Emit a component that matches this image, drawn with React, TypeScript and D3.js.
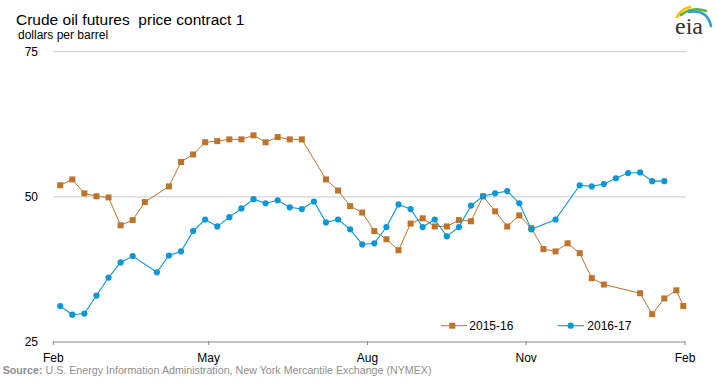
import * as d3 from 'd3'

// weekly settle prices, dollars per barrel
const dates1516 = [
  '2015-02-06', '2015-02-13', '2015-02-20', '2015-02-27', '2015-03-06', '2015-03-13', '2015-03-20', '2015-03-27',
  '2015-04-10', '2015-04-17', '2015-04-24', '2015-05-01', '2015-05-08', '2015-05-15', '2015-05-22', '2015-05-29',
  '2015-06-05', '2015-06-12', '2015-06-19', '2015-06-26', '2015-07-10', '2015-07-17', '2015-07-24', '2015-07-31',
  '2015-08-07', '2015-08-14', '2015-08-21', '2015-08-28', '2015-09-04', '2015-09-11', '2015-09-18', '2015-09-25',
  '2015-10-02', '2015-10-09', '2015-10-16', '2015-10-23', '2015-10-30', '2015-11-06', '2015-11-13', '2015-11-20',
  '2015-11-27', '2015-12-04', '2015-12-11', '2015-12-18', '2016-01-08', '2016-01-15', '2016-01-22', '2016-01-29',
  '2016-02-02',
]
const values1516 = [
  52.0, 53.0, 50.6, 50.1, 49.9, 45.1, 46.0, 49.1,
  51.8, 56.0, 57.3, 59.4, 59.6, 59.9, 59.9, 60.6,
  59.4, 60.3, 59.9, 59.9, 53.0, 51.1, 48.4, 47.3,
  44.1, 42.7, 40.8, 45.4, 46.3, 44.9, 44.9, 46.0,
  45.8, 50.1, 47.5, 44.9, 46.8, 44.6, 41.0, 40.6,
  42.0, 40.3, 36.0, 34.9, 33.4, 29.8, 32.5, 33.9,
  31.2,
]

const dates1617 = [
  '2016-02-05', '2016-02-12', '2016-02-19', '2016-02-26', '2016-03-04', '2016-03-11', '2016-03-18', '2016-04-01',
  '2016-04-08', '2016-04-15', '2016-04-22', '2016-04-29', '2016-05-06', '2016-05-13', '2016-05-20', '2016-05-27',
  '2016-06-03', '2016-06-10', '2016-06-17', '2016-06-24', '2016-07-01', '2016-07-08', '2016-07-15', '2016-07-22',
  '2016-07-29', '2016-08-05', '2016-08-12', '2016-08-19', '2016-08-26', '2016-09-02', '2016-09-09', '2016-09-16',
  '2016-09-23', '2016-09-30', '2016-10-07', '2016-10-14', '2016-10-21', '2016-10-28', '2016-11-04', '2016-11-18',
  '2016-12-02', '2016-12-09', '2016-12-16', '2016-12-23', '2016-12-30', '2017-01-06', '2017-01-13', '2017-01-20',
]
const values1617 = [
  31.2, 29.7, 29.9, 33.0, 36.1, 38.7, 39.8, 37.0,
  39.9, 40.6, 44.1, 46.1, 44.9, 46.5, 48.0, 49.6,
  48.9, 49.4, 48.2, 47.9, 49.2, 45.6, 46.1, 44.4,
  41.8, 42.0, 44.8, 48.7, 47.9, 44.8, 46.1, 43.2,
  44.8, 48.5, 50.1, 50.6, 51.0, 48.9, 44.4, 46.1,
  52.0, 51.8, 52.2, 53.2, 54.1, 54.2, 52.7, 52.7,
]

const seriesNames = ['2015-16', '2016-17']
const xTicks = ['2016-02-01', '2016-05-01', '2016-08-01', '2016-11-01', '2017-02-01']
const yTicks = [25, 50, 75]

const ORANGE = '#bd732a'
const BLUE = '#0b96d6'
const SANS = "Arial, 'Liberation Sans', sans-serif"

const parse = d3.timeParse('%Y-%m-%d')

export default function App() {
  const x = d3
    .scaleTime()
    .domain([parse(xTicks[0])!, parse(xTicks[xTicks.length - 1])!])
    .range([53.3, 685])
  const y = d3.scaleLinear().domain([25, 75]).range([342, 51.7])

  // previous season is shifted forward 52 weeks so the weekdays line up
  const s1516 = dates1516.map((d, i) => ({ date: d3.timeDay.offset(parse(d)!, 364), value: values1516[i] }))
  const s1617 = dates1617.map((d, i) => ({ date: parse(d)!, value: values1617[i] }))

  const line = d3
    .line<{ date: Date; value: number }>()
    .x((d) => x(d.date))
    .y((d) => y(d.value))

  const fmt = d3.timeFormat('%b')

  return (
    <svg
      width={719}
      height={384}
      style={{ position: 'absolute', left: 0, top: 0, background: '#fff' }}
      fontFamily={SANS}
    >
      <text x={16} y={25} fontSize={15.5} fill="#000">
        Crude oil futures{'\u00a0'} price contract 1
      </text>
      <text x={18} y={39} fontSize={12} fill="#000">
        dollars per barrel
      </text>

      {/* eia logo */}
      <g fill="none" strokeWidth={2.6} strokeLinecap="round">
        <path d="M677,17 Q681,9 690,7" stroke="#f2c200" />
        <path d="M681,15 Q692,6 706,11" stroke="#5fae3e" />
        <path d="M689,12 Q707,9 711,26" stroke="#2b9ed8" />
      </g>
      <text x={675} y={34.3} fontFamily="'Liberation Serif', 'DejaVu Serif', serif" fontSize={24} fill="#333">
        eia
      </text>

      {/* grid and axis */}
      {yTicks.slice(1).map((t) => (
        <line key={t} x1={53.3} x2={686} y1={y(t)} y2={y(t)} stroke="#cbcbd2" strokeWidth={1} />
      ))}
      <line x1={53.3} x2={685} y1={y(25)} y2={y(25)} stroke="#8a8a8a" strokeWidth={1} />
      {xTicks.map((t, i) => {
        const px = x(parse(t)!)
        return (
          <g key={i}>
            <line x1={px} x2={px} y1={341} y2={345} stroke="#8a8a8a" />
            <text x={px} y={361.5} fontSize={12} textAnchor="middle" fill="#000">
              {fmt(parse(t)!)}
            </text>
          </g>
        )
      })}
      {yTicks.map((t) => (
        <text key={t} x={38} y={y(t) + 4.3} fontSize={12} textAnchor="end" fill="#000">
          {t}
        </text>
      ))}

      {/* series */}
      <path d={line(s1516) ?? ''} fill="none" stroke={ORANGE} strokeWidth={1} />
      {s1516.map((d, i) => (
        <rect key={i} x={x(d.date) - 3} y={y(d.value) - 3} width={6} height={6} fill={ORANGE} />
      ))}
      <path d={line(s1617) ?? ''} fill="none" stroke={BLUE} strokeWidth={1.1} />
      {s1617.map((d, i) => (
        <circle key={i} cx={x(d.date)} cy={y(d.value)} r={3.1} fill={BLUE} />
      ))}

      {/* legend */}
      <g fontSize={12} fill="#000">
        <line x1={441} x2={467} y1={325.7} y2={325.7} stroke={ORANGE} />
        <rect x={449.3} y={322.7} width={6} height={6} fill={ORANGE} />
        <text x={469.3} y={330}>{seriesNames[0]}</text>
        <line x1={558} x2={584} y1={325.7} y2={325.7} stroke={BLUE} strokeWidth={1.1} />
        <circle cx={570.7} cy={325.7} r={3.1} fill={BLUE} />
        <text x={587.3} y={330}>{seriesNames[1]}</text>
      </g>

      <text x={2.7} y={374} fontSize={10.7} fill="#8f8f8f">
        <tspan fontWeight="bold">Source:</tspan> U.S. Energy Information Administration, New York Mercantile Exchange (NYMEX)
      </text>
    </svg>
  )
}
